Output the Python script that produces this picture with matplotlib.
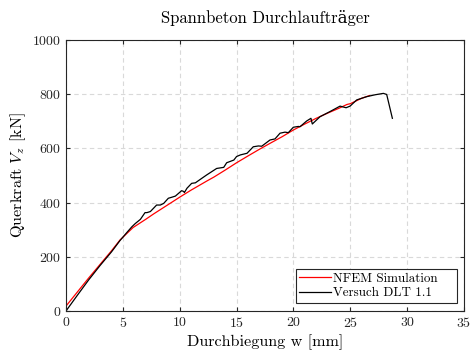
import numpy as np
import matplotlib
matplotlib.use("Agg")
import matplotlib.pyplot as plt

plt.rcParams['font.family'] = ['cmr10', 'DejaVu Serif']
plt.rcParams['mathtext.fontset'] = 'cm'
plt.rcParams['axes.formatter.use_mathtext'] = True

# NFEM simulation (red)
w_sim = [0, 1, 2, 3, 4, 4.75, 5.9, 7, 7.7, 9, 10, 11, 12.4, 13, 14, 15, 16,
         17.06, 18, 19, 20, 21, 22, 23, 24, 24.7, 25, 25.5, 26, 26.7]
v_sim = [18, 70, 122, 172, 222, 262, 308, 338, 358, 393, 420, 446, 480, 494,
         520, 547, 572, 598, 620, 643, 668, 690, 711, 730, 748, 762, 765, 775,
         785, 795]

# test DLT 1.1 (black)
w_test = [0, 1, 2, 3, 4, 4.75, 5.36, 5.8, 6.1, 6.54, 6.95, 7.12, 7.42, 7.97,
          8.3, 8.59, 9.0, 9.32, 9.62, 10.17, 10.35, 10.41, 10.64, 11.05,
          11.38, 11.82, 12.37, 13.25, 13.87, 14.13, 14.76, 15.0, 15.34, 15.92,
          16.47, 16.92, 17.21, 17.94, 18.38, 18.82, 19.26, 19.55,
          19.99, 20.43, 20.58, 21.16, 21.54, 21.66, 22.34, 23.22, 24.1, 24.63,
          24.98, 25.57, 26.45, 27.2, 27.91, 28.2, 28.7]
v_test = [0, 58, 115, 168, 218, 260, 290, 311, 323, 338, 363, 363, 367, 391,
          391, 397, 416, 420, 424, 444, 441, 437, 453, 471, 473, 486, 502, 526,
          530, 547, 557, 570, 576, 582, 606, 609, 608, 631, 635, 656, 660,
          658, 678, 681, 680, 701, 711, 690, 717, 736, 756, 750, 756, 779, 791,
          798, 803, 799, 711]

fig = plt.figure(figsize=(4.73, 3.53), dpi=100)
ax = fig.add_axes([0.1395, 0.119, 0.8415, 0.7677])

ax.plot(w_sim, v_sim, color='red', lw=0.9, label='NFEM Simulation')
ax.plot(w_test, v_test, color='black', lw=0.9, label='Versuch DLT 1.1')

ax.set_xlim(0, 35)
ax.set_ylim(0, 1000)
ax.set_xticks(np.arange(0, 36, 5))
ax.set_yticks(np.arange(0, 1001, 200))
ax.grid(True, linestyle=(0, (4, 3)), color='#d9d9d9', lw=0.8)
ax.set_axisbelow(True)
ax.tick_params(direction='in', top=True, right=True, labelsize=10,
               colors='#262626', length=3)
for s in ax.spines.values():
    s.set_color('#262626')
    s.set_linewidth(0.8)

ax.set_title('Spannbeton Durchlaufträger', fontsize=12, pad=12)
ax.set_xlabel('Durchbiegung w [mm]', fontsize=11.7, labelpad=3)
ax.set_ylabel('Querkraft $V_z$ [kN]', fontsize=11.7, labelpad=3)

leg = ax.legend(loc='lower left', bbox_to_anchor=(0.578, 0.031, 0.404, 0.13),
                mode='expand', fontsize=9.4, fancybox=False,
                edgecolor='#262626', framealpha=1, handlelength=2.45,
                borderaxespad=0, borderpad=0.25, labelspacing=0.2,
                handletextpad=0.15)
leg.get_frame().set_linewidth(0.8)

fig.savefig('out.png', dpi=100)
